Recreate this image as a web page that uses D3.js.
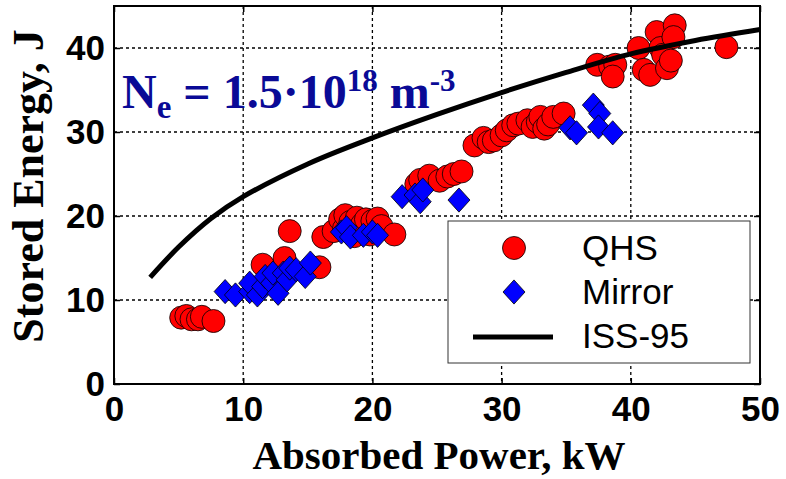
<!DOCTYPE html>
<html>
<head>
<meta charset="utf-8">
<script src="https://cdn.jsdelivr.net/npm/d3@7"></script>
<style>
  body { margin: 0; background: #fff; }
  svg text { font-family: "Liberation Sans", Arial, sans-serif; }
</style>
</head>
<body>
<div id="chart"></div>
<script>
// QHS points (absorbed power kW, stored energy J)
const qhsX = [5.2, 5.6, 6.0, 6.5, 6.8, 7.7,
  11.5, 13.2, 13.6, 15.9,
  16.2, 17.0, 17.5, 17.8, 17.9, 18.3, 18.6, 18.8, 19.2, 19.5, 19.8, 20.0, 20.4, 20.7, 21.7,
  23.4, 23.7, 24.4, 25.2, 25.8, 26.3, 26.9,
  27.9, 28.6, 29.0, 29.4, 30.0, 30.4, 30.9, 31.3, 32.0, 32.4, 32.8, 33.0, 33.3, 33.6, 34.0, 34.8,
  37.4, 38.4, 38.8, 38.6, 40.6, 41.0, 41.5, 42.0, 42.3, 42.5, 42.8, 43.1, 43.4, 43.3, 47.4];
const qhsY = [7.9, 8.1, 7.7, 7.7, 8.0, 7.5,
  14.2, 15.0, 18.2, 13.9,
  17.5, 18.2, 19.6, 18.5, 20.1, 19.3, 17.6, 19.8, 19.0, 19.6, 17.8, 19.4, 19.7, 18.8, 17.8,
  23.8, 24.3, 24.8, 24.2, 24.7, 25.0, 25.3,
  28.4, 29.3, 28.8, 29.0, 29.6, 30.2, 30.8, 31.0, 31.4, 30.6, 31.2, 31.8, 30.4, 30.9, 31.8, 32.2,
  38.0, 37.8, 38.0, 36.6, 40.0, 37.4, 36.8, 41.9, 40.0, 39.2, 37.6, 38.5, 42.7, 41.3, 40.1];

// Mirror points
const mirX = [8.6, 9.4, 10.5, 10.5, 11.1, 11.5, 11.7, 12.2, 12.3, 12.7, 13.1, 13.4, 13.6, 14.1, 14.8, 15.2,
  17.6, 18.0, 18.3, 19.3, 20.0, 20.4,
  22.3, 23.3, 23.7, 23.9, 26.7,
  35.3, 35.8, 37.1, 37.6, 37.5, 38.6];
const mirY = [11.0, 10.6, 11.0, 12.0, 10.6, 11.6, 12.8, 12.0, 13.2, 10.8, 13.2, 12.4, 13.8, 13.6, 12.8, 14.4,
  18.1, 18.6, 17.5, 17.7, 18.1, 17.7,
  22.3, 22.5, 21.7, 23.1, 21.9,
  30.5, 29.9, 33.2, 32.2, 30.6, 29.9];

// ISS-95 scaling curve
const issX = [2.8, 5, 7.5, 10, 15, 20, 25, 30, 35, 40, 45, 50];
const issY = [12.7, 16.3, 19.7, 22.3, 26.2, 29.3, 32.1, 34.7, 37.1, 39.3, 40.9, 42.2];

const xTicks = [0, 10, 20, 30, 40, 50];
const yTicks = [0, 10, 20, 30, 40];

const W = 786, H = 479;
const m = {left: 114, right: 760, top: 6, bottom: 384};

const svg = d3.select('#chart').append('svg')
  .attr('width', W).attr('height', H);

const x = d3.scaleLinear().domain([0, 50]).range([m.left, m.right]);
const y = d3.scaleLinear().domain([0, 45]).range([m.bottom, m.top]);

// grid
svg.append('g').selectAll('line')
  .data(xTicks.slice(1, -1))
  .join('line')
  .attr('x1', d => x(d)).attr('x2', d => x(d))
  .attr('y1', m.top).attr('y2', m.bottom)
  .attr('stroke', '#000').attr('stroke-width', 1.3)
  .attr('stroke-dasharray', '3,3');
svg.append('g').selectAll('line')
  .data(yTicks.slice(1))
  .join('line')
  .attr('x1', m.left).attr('x2', m.right)
  .attr('y1', d => y(d)).attr('y2', d => y(d))
  .attr('stroke', '#000').attr('stroke-width', 1.3)
  .attr('stroke-dasharray', '3,3');

// axes with inward ticks
const axisStyle = g => {
  g.select('.domain').remove();
  g.selectAll('line').attr('stroke', '#000').attr('stroke-width', 1.5);
  g.selectAll('text')
    .style('font-family', '"Liberation Sans", Arial, sans-serif')
    .style('font-weight', 'bold').style('font-size', '35px').attr('fill', '#000');
};
svg.append('g').attr('transform', `translate(0,${m.bottom})`)
  .call(d3.axisBottom(x).tickValues(xTicks).tickSize(-6).tickPadding(12).tickFormat(d3.format('d')))
  .call(axisStyle);
svg.append('g').attr('transform', `translate(0,${m.top})`)
  .call(d3.axisTop(x).tickValues(xTicks).tickSize(-6).tickFormat(''))
  .call(axisStyle);
svg.append('g').attr('transform', `translate(${m.left},0)`)
  .call(d3.axisLeft(y).tickValues(yTicks).tickSize(-6).tickPadding(9).tickFormat(d3.format('d')))
  .call(axisStyle);
svg.append('g').attr('transform', `translate(${m.right},0)`)
  .call(d3.axisRight(y).tickValues(yTicks).tickSize(-6).tickFormat(''))
  .call(axisStyle);

// QHS circles
svg.append('g').selectAll('circle')
  .data(qhsX.map((v, i) => [v, qhsY[i]]))
  .join('circle')
  .attr('cx', d => x(d[0])).attr('cy', d => y(d[1]))
  .attr('r', 11.5)
  .attr('fill', '#ff0000').attr('stroke', '#000').attr('stroke-width', 0.8);

// Mirror diamonds
const diamond = (cx, cy, s) => `M${cx},${cy - s * 1.1}L${cx + s},${cy}L${cx},${cy + s * 1.1}L${cx - s},${cy}Z`;
svg.append('g').selectAll('path')
  .data(mirX.map((v, i) => [v, mirY[i]]))
  .join('path')
  .attr('d', d => diamond(x(d[0]), y(d[1]), 11))
  .attr('fill', '#0000ff').attr('stroke', '#000').attr('stroke-width', 0.8);

// ISS-95 line
svg.append('path')
  .datum(issX.map((v, i) => [v, issY[i]]))
  .attr('d', d3.line().x(d => x(d[0])).y(d => y(d[1])).curve(d3.curveCatmullRom))
  .attr('fill', 'none').attr('stroke', '#000').attr('stroke-width', 5);

// frame
svg.append('rect')
  .attr('x', m.left).attr('y', m.top)
  .attr('width', m.right - m.left).attr('height', m.bottom - m.top)
  .attr('fill', 'none').attr('stroke', '#000').attr('stroke-width', 2);

// annotation
const ann = svg.append('text')
  .attr('x', 122).attr('y', 108)
  .attr('fill', '#0a0a96')
  .style('font-family', '"Liberation Serif", "Times New Roman", serif')
  .style('font-weight', 'bold').style('font-size', '48px');
ann.append('tspan').text('N');
ann.append('tspan').attr('dy', 10).style('font-size', '33px').text('e');
ann.append('tspan').attr('dy', -10).text(' = 1.5·10');
ann.append('tspan').attr('dy', -17).style('font-size', '31px').text('18');
ann.append('tspan').attr('dy', 17).text(' m');
ann.append('tspan').attr('dy', -17).style('font-size', '31px').text('-3');

// legend
const lg = svg.append('g');
lg.append('rect')
  .attr('x', 448).attr('y', 221).attr('width', 302).attr('height', 142)
  .attr('fill', '#fff').attr('stroke', '#333').attr('stroke-width', 1);
lg.append('circle').attr('cx', 514).attr('cy', 248).attr('r', 11.5)
  .attr('fill', '#ff0000').attr('stroke', '#000').attr('stroke-width', 0.8);
lg.append('path').attr('d', diamond(514, 292, 11))
  .attr('fill', '#0000ff').attr('stroke', '#000').attr('stroke-width', 0.8);
lg.append('line').attr('x1', 473).attr('x2', 553).attr('y1', 337).attr('y2', 337)
  .attr('stroke', '#000').attr('stroke-width', 5);
const legendLabels = ['QHS', 'Mirror', 'ISS-95'];
lg.selectAll('.lt').data(legendLabels).join('text')
  .attr('class', 'lt')
  .attr('x', 582).attr('y', (d, i) => 260 + i * 44)
  .style('font-size', '35px').attr('fill', '#000')
  .text(d => d);

// axis titles
svg.append('text')
  .attr('x', 439).attr('y', 469).attr('text-anchor', 'middle')
  .style('font-family', '"Liberation Serif", "Times New Roman", serif')
  .style('font-weight', 'bold').style('font-size', '41px')
  .text('Absorbed Power, kW');
svg.append('text')
  .attr('transform', 'translate(43,186) rotate(-90)')
  .attr('text-anchor', 'middle')
  .style('font-family', '"Liberation Serif", "Times New Roman", serif')
  .style('font-weight', 'bold').style('font-size', '44px')
  .text('Stored Energy, J');
</script>
</body>
</html>
